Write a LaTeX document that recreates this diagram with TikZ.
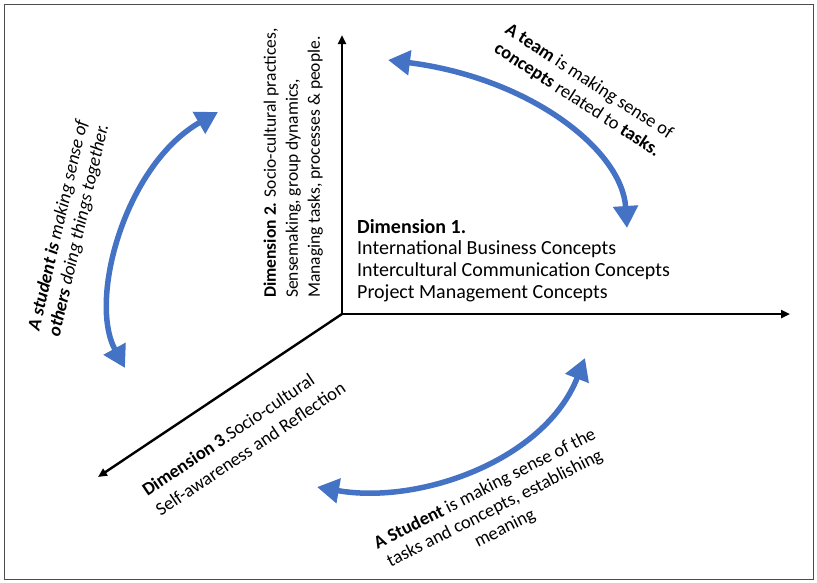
\documentclass[tikz,border=0pt]{standalone}
\usepackage{fontspec}
\setmainfont{Carlito}
\usetikzlibrary{arrows.meta}
\definecolor{arcblue}{HTML}{4472C4}

\begin{document}
\begin{tikzpicture}[x=1pt, y=-1pt]
    % ===================================
    % 設定
    % ===================================
    \def\W{817}  % 全体の幅
    \def\H{582}  % 全体の高さ

    \tikzset{
        axis/.style={line width=2.4pt, -{Triangle[length=9pt, width=8pt]}},
        twoway/.style={draw=arcblue, line width=5.5pt,
            {Triangle[length=22pt, width=24pt]}-{Triangle[length=22pt, width=24pt]}},
        lbl/.style={inner sep=0pt, font=\fontsize{18.5}{22}\selectfont}
    }
    % ===================================

    % 0. 外枠
    \useasboundingbox (0,0) rectangle (\W,\H);
    \draw[black!70, line width=1pt] (4,4) rectangle (813,579);

    % 1. 原点と3本の軸
    \coordinate (O) at (342,314);
    \coordinate (d1) at (790,314);
    \coordinate (d2) at (342,35);
    \coordinate (d3) at (98,477);
    \draw[axis] (O) -- (d1);
    \draw[axis] (O) -- (d2);
    \draw[axis] (O) -- (d3);

    % 2. 各軸のラベル
    \node[lbl, anchor=north west, align=left, font=\fontsize{20}{21.7}\selectfont] (dim1) at (357,219)
        {\textbf{Dimension 1.}\\International Business Concepts\\
         Intercultural Communication Concepts\\Project Management Concepts};
    \node[lbl, rotate=90, anchor=south west, align=left, font=\fontsize{17.5}{22}\selectfont] (dim2) at (323,298)
        {\textbf{Dimension 2.} Socio-cultural practices,\\
         Sensemaking, group dynamics,\\Managing tasks, processes \& people.};
    \node[lbl, rotate=34, anchor=north west, align=left, font=\fontsize{18.5}{24}\selectfont] (dim3) at (140,486)
        {\textbf{Dimension 3}.Socio-cultural\\Self-awareness and Reflection};

    % 3. 両向きの青い矢印
    \coordinate (t1) at (388,60);
    \coordinate (t2) at (627,228);
    \draw[twoway] (t1) .. controls (530,78) and (622,150) .. (t2);

    \coordinate (s1) at (218,112);
    \coordinate (s2) at (125,368);
    \draw[twoway] (s1) .. controls (125,165) and (88,300) .. (s2);

    \coordinate (b1) at (585,358);
    \coordinate (b2) at (317,487);
    \draw[twoway] (b1) .. controls (545,460) and (420,505) .. (b2);

    % 4. 矢印の説明
    \node[lbl, rotate=-33, align=center] (team) at (583,91)
        {\textbf{A team} is making sense of\\\textbf{concepts} related to \textbf{tasks.}};
    \node[lbl, rotate=77, align=center, font=\fontsize{18.5}{21}\selectfont\itshape] (others) at (69,228)
        {\textbf{A student is} making sense of\\\textbf{others} doing things together.};
    \node[lbl, rotate=27, align=center] (student) at (495,509)
        {\textbf{A Student} is making sense of the\\tasks and concepts, establishing\\meaning};

\end{tikzpicture}
\end{document}
